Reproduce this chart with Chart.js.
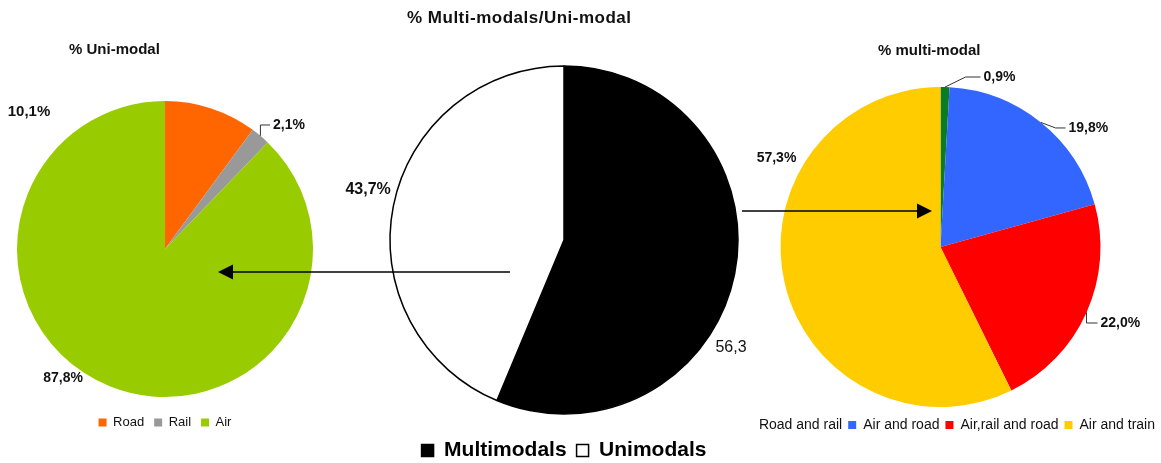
<!DOCTYPE html>
<html>
<head>
<meta charset="utf-8">
<script src="https://cdn.jsdelivr.net/npm/chart.js@4.4.1/dist/chart.umd.min.js"></script>
<style>
  html, body { margin: 0; padding: 0; background: #fff; overflow: hidden; }
  #wrap { position: relative; width: 1161px; height: 463px; }
  .box { position: absolute; top: 0; }
</style>
</head>
<body>
<div id="wrap">
  <div class="box" style="left:0;width:330px;height:463px"><canvas id="uni"></canvas></div>
  <div class="box" style="left:720px;width:441px;height:463px"><canvas id="multi"></canvas></div>
  <div class="box" style="left:0;width:1161px;height:471px;pointer-events:none"><canvas id="split"></canvas></div>
</div>
<script>
// data
const splitLabels = ['Multimodals', 'Unimodals'];
const splitValues = [56.3, 43.7];

const uniLabels = ['Road', 'Rail', 'Air'];
const uniValues = [10.1, 2.1, 87.8];

const multiLabels = ['Road and rail', 'Air and road', 'Air,rail and road', 'Air and train'];
const multiValues = [0.9, 19.8, 22.0, 57.3];

const FONT = "'Liberation Sans', Arial, sans-serif";
Chart.defaults.font.family = FONT;
Chart.defaults.color = '#111';

// percentage labels, leader lines, titles and arrows
const sliceLabels = {
  id: 'sliceLabels',
  afterDatasetsDraw(chart, args, opts) {
    const ctx = chart.ctx;
    const meta = chart.getDatasetMeta(0);
    const values = chart.data.datasets[0].data;
    ctx.save();
    ctx.fillStyle = '#111';
    ctx.strokeStyle = '#333';
    ctx.lineWidth = 1;
    (opts.items || []).forEach((it, i) => {
      const arc = meta.data[i];
      const { x, y, outerRadius, startAngle, endAngle } =
        arc.getProps(['x', 'y', 'outerRadius', 'startAngle', 'endAngle'], true);
      const tx = x + it.dx * outerRadius;
      const ty = y + it.dy * outerRadius;
      if (it.leader) {
        const mid = (startAngle + endAngle) / 2;
        const sx = x + Math.cos(mid) * outerRadius;
        const sy = y + Math.sin(mid) * outerRadius;
        const kx = it.leader === 'vertical' ? sx : tx - it.gap;
        ctx.beginPath();
        ctx.moveTo(sx, sy);
        ctx.lineTo(kx, ty);
        ctx.lineTo(tx - 3, ty);
        ctx.stroke();
      }
      ctx.font = it.font;
      ctx.textAlign = it.align || 'center';
      ctx.textBaseline = 'middle';
      const txt = values[i].toFixed(1).replace('.', ',') + (it.pct === false ? '' : '%');
      ctx.fillText(txt, tx, ty);
    });
    if (opts.title) {
      const t = opts.title;
      ctx.font = t.font;
      ctx.letterSpacing = t.spacing || '0px';
      ctx.textAlign = 'left';
      ctx.textBaseline = 'middle';
      ctx.fillText(t.text, t.x, t.y);
      ctx.letterSpacing = '0px';
    }
    (opts.arrows || []).forEach(a => {
      const [x1, y1, x2, y2] = a;
      const dir = Math.sign(x2 - x1);
      ctx.strokeStyle = '#000';
      ctx.fillStyle = '#000';
      ctx.lineWidth = 1.5;
      ctx.beginPath();
      ctx.moveTo(x1, y1);
      ctx.lineTo(x2 - dir * 12, y2);
      ctx.stroke();
      ctx.beginPath();
      ctx.moveTo(x2, y2);
      ctx.lineTo(x2 - dir * 15, y2 - 7.5);
      ctx.lineTo(x2 - dir * 15, y2 + 7.5);
      ctx.closePath();
      ctx.fill();
    });
    ctx.restore();
  }
};

const uniChart = new Chart(document.getElementById('uni'), {
  type: 'pie',
  data: {
    labels: uniLabels,
    datasets: [{
      data: uniValues,
      backgroundColor: ['#ff6600', '#999999', '#99cc00'],
      borderWidth: 0,
      radius: 148
    }]
  },
  options: {
    responsive: true,
    maintainAspectRatio: false,
    animation: false,
    layout: { padding: { top: 92, bottom: 24, left: 0, right: 0 } },
    plugins: {
      tooltip: { enabled: false },
      legend: {
        position: 'bottom',
        labels: { boxWidth: 8, boxHeight: 8, padding: 10, font: { size: 13 }, color: '#111' }
      },
      sliceLabels: {
        title: { text: '% Uni-modal', x: 69, y: 50, font: 'bold 15px ' + FONT },
        items: [
          { dx: -0.919, dy: -0.926, font: 'bold 15px ' + FONT },
          { dx: 0.73, dy: -0.838, align: 'left', leader: 'vertical', font: 'bold 14px ' + FONT },
          { dx: -0.689, dy: 0.872, font: 'bold 14px ' + FONT }
        ]
      }
    }
  },
  plugins: [sliceLabels]
});

const multiChart = new Chart(document.getElementById('multi'), {
  type: 'pie',
  data: {
    labels: multiLabels,
    datasets: [{
      data: multiValues,
      backgroundColor: ['#0a7d23', '#3366ff', '#ff0000', '#ffcc00'],
      borderWidth: 0,
      radius: 160
    }]
  },
  options: {
    responsive: true,
    maintainAspectRatio: false,
    animation: false,
    layout: { padding: { top: 82, bottom: 21, left: 0, right: 0 } },
    plugins: {
      tooltip: { enabled: false },
      legend: {
        position: 'bottom',
        align: 'end',
        labels: {
          boxWidth: 8, boxHeight: 8, padding: 6, font: { size: 14 }, color: '#111',
          generateLabels(chart) {
            const items = Chart.overrides.pie.plugins.legend.labels.generateLabels(chart);
            // the first entry has no visible swatch in the original
            items[0].fillStyle = 'rgba(0,0,0,0)';
            items[0].strokeStyle = 'rgba(0,0,0,0)';
            items[0].lineWidth = 0;
            return items;
          }
        }
      },
      sliceLabels: {
        title: { text: '% multi-modal', x: 158, y: 51, font: 'bold 15px ' + FONT },
        items: [
          { dx: 0.269, dy: -1.0625, align: 'left', leader: 'knee', gap: 18, font: 'bold 14px ' + FONT },
          { dx: 0.8, dy: -0.744, align: 'left', leader: 'knee', gap: 13, font: 'bold 14px ' + FONT },
          { dx: 1.0, dy: 0.475, align: 'left', leader: 'vertical', font: 'bold 14px ' + FONT },
          { dx: -1.025, dy: -0.556, font: 'bold 14px ' + FONT }
        ]
      }
    }
  },
  plugins: [sliceLabels]
});

const splitChart = new Chart(document.getElementById('split'), {
  type: 'pie',
  data: {
    labels: splitLabels,
    datasets: [{
      data: splitValues,
      backgroundColor: ['#000000', '#ffffff'],
      borderColor: '#000000',
      borderWidth: 1.5,
      radius: 174
    }]
  },
  options: {
    responsive: true,
    maintainAspectRatio: false,
    animation: false,
    events: [],
    layout: { padding: { top: 50, bottom: 0, left: 0, right: 33 } },
    plugins: {
      tooltip: { enabled: false },
      legend: {
        position: 'bottom',
        labels: { boxWidth: 12, boxHeight: 12, padding: 10, font: { size: 21, weight: 'bold' }, color: '#000' }
      },
      sliceLabels: {
        title: { text: '% Multi-modals/Uni-modal', x: 407, y: 18, font: 'bold 17px ' + FONT, spacing: '0.5px' },
        items: [
          { dx: 0.96, dy: 0.62, font: '16px ' + FONT, pct: false },
          { dx: -1.126, dy: -0.287, font: 'bold 16px ' + FONT }
        ],
        arrows: [[510, 272, 218, 272], [742, 211, 932, 211]]
      }
    }
  },
  plugins: [sliceLabels]
});
</script>
</body>
</html>
